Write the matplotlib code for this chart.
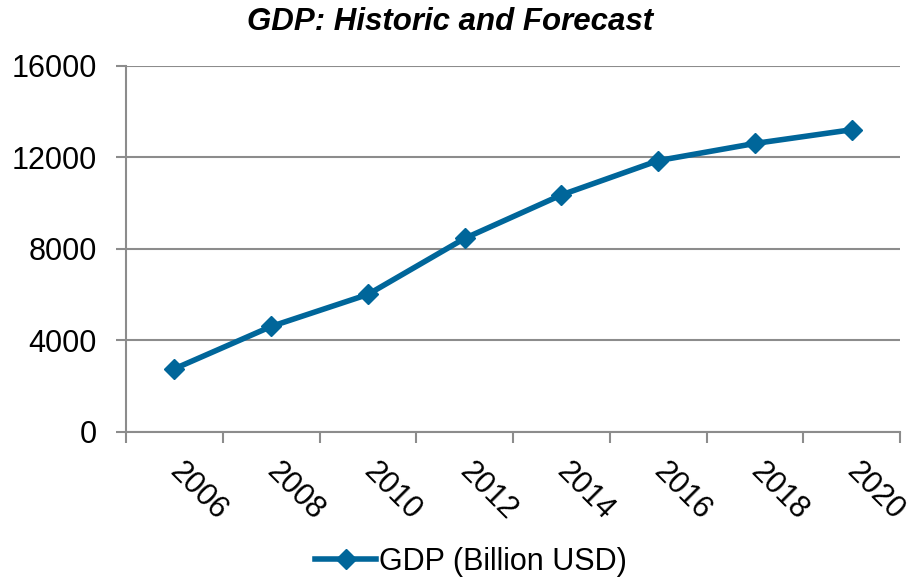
import numpy as np
import matplotlib.pyplot as plt
from matplotlib.ticker import FixedLocator, NullFormatter
import matplotlib.transforms as mtrans

plt.rcParams['font.family'] = ['Liberation Sans', 'DejaVu Sans']

years = ["2006", "2008", "2010", "2012", "2014", "2016", "2018", "2020"]
gdp = [2750, 4600, 6000, 8450, 10350, 11850, 12600, 13200]

blue = "#00669A"
grey = "#8C8C8C"

fig = plt.figure(figsize=(9.11, 5.82), dpi=100)
ax = fig.add_axes([126/911, 1 - 431.7/582, 774/911, 366/582])

x = np.arange(len(years))
ax.plot(x, gdp, color=blue, lw=4, marker="D", ms=10, label="GDP (Billion USD)",
        solid_joinstyle="round", zorder=3)

ax.set_xlim(-0.5, len(years) - 0.5)
ax.set_ylim(0, 16000)
ax.set_yticks([0, 4000, 8000, 12000, 16000])
ax.yaxis.grid(True, color=grey, lw=1.5)
ax.set_axisbelow(True)

# category ticks sit between the points, labels under the points
ax.xaxis.set_major_locator(FixedLocator(np.arange(len(years) + 1) - 0.5))
ax.xaxis.set_major_formatter(NullFormatter())
ax.xaxis.set_minor_locator(FixedLocator(x))
ax.set_xticklabels(years, minor=True, rotation=-45, ha="left", va="center",
                   rotation_mode="anchor", fontsize=22)
ax.tick_params(axis="x", which="minor", length=0, pad=0)
ax.tick_params(axis="x", which="major", length=8, width=1.5, color=grey)
ax.tick_params(axis="y", length=7, width=1.5, color=grey, labelsize=22, pad=14)
off = mtrans.ScaledTranslation(0/100, -36/100, fig.dpi_scale_trans)
for lab in ax.xaxis.get_minorticklabels():
    lab.set_transform(lab.get_transform() + off)

for s in ["top", "right"]:
    ax.spines[s].set_visible(False)
for s in ["left", "bottom"]:
    ax.spines[s].set_color(grey)
    ax.spines[s].set_linewidth(1.5)

fig.text(450/911, 1 - 22/582, "GDP: Historic and Forecast", ha="center", va="center",
         fontsize=22.5, fontweight="bold", fontstyle="italic")

fig.legend(loc="center", bbox_to_anchor=(471/911, 1 - 562/582), frameon=False,
           fontsize=22, handlelength=2.0, handletextpad=0.1, borderpad=0)

fig.savefig("out.png", dpi=100)
